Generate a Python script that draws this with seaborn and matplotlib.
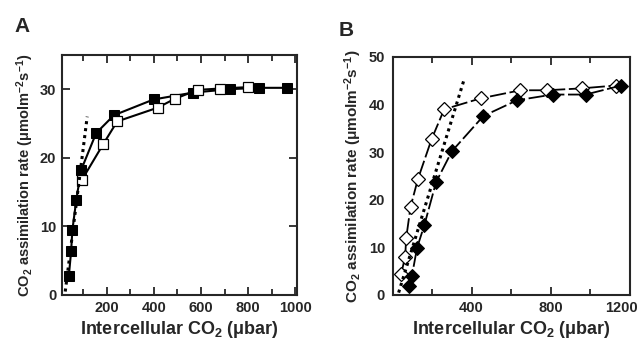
import numpy as np
import pandas as pd
import matplotlib
matplotlib.use("Agg")
import matplotlib.pyplot as plt
import matplotlib.transforms as mtransforms
import seaborn as sns
from matplotlib.ticker import MultipleLocator

# ---- data ----
# panel A
a_fill_x = [40, 50, 55, 72, 92, 156, 231, 399, 565, 721, 844, 962]
a_fill_y = [2.7, 6.4, 9.4, 13.9, 18.2, 23.6, 26.2, 28.5, 29.5, 30.0, 30.2, 30.2]
a_open_x = [96, 186, 245, 416, 489, 586, 682, 799]
a_open_y = [16.8, 22.0, 25.3, 27.3, 28.6, 29.9, 30.1, 30.3]
a_dot_x = [25, 118]
a_dot_y = [0.5, 26]

# panel B
b_open_x = [45, 65, 70, 92, 129, 199, 262, 446, 647, 780, 956, 1128]
b_open_y = [4.5, 8.0, 11.9, 18.5, 24.3, 32.8, 39.0, 41.3, 43.0, 43.0, 43.4, 44.0]
b_fill_x = [82, 99, 125, 162, 221, 301, 460, 630, 809, 976, 1156]
b_fill_y = [1.9, 4.0, 9.9, 14.7, 23.7, 30.2, 37.6, 40.9, 42.1, 42.1, 44.0]
b_dot_x = [32, 362]
b_dot_y = [0.5, 45.2]

sns.set_style("ticks")
plt.rcParams["font.family"] = ["Liberation Sans", "DejaVu Sans"]
plt.rcParams["font.weight"] = "bold"
plt.rcParams["mathtext.default"] = "regular"
plt.rcParams["axes.linewidth"] = 1.5

fig = plt.figure(figsize=(6.42, 3.41), dpi=100)
ax1 = fig.add_axes([0.0961, 0.135, 0.366, 0.704])
ax2 = fig.add_axes([0.6126, 0.135, 0.3687, 0.698])

ylab = "CO$_2$ assimilation rate ($\\mu$molm$^{-2}$s$^{-1}$)"
xlab = "Intercellular CO$_2$ ($\\mu$bar)"

# ============================
# Panel A
# ============================
sns.lineplot(x=a_dot_x, y=a_dot_y, ax=ax1, color="black", lw=2.2,
             linestyle=(0, (1, 1.3)), zorder=4)
sns.lineplot(x=a_fill_x, y=a_fill_y, ax=ax1, color="black", lw=1.5, sort=False,
             marker="s", markersize=7, markerfacecolor="black",
             markeredgecolor="black", zorder=3)
sns.lineplot(x=a_open_x, y=a_open_y, ax=ax1, color="black", lw=1.5, sort=False,
             marker="s", markersize=7, markerfacecolor="white",
             markeredgecolor="black", markeredgewidth=0.9, zorder=3)

ax1.set_xlim(10, 1005)
ax1.set_ylim(0, 35)
ax1.xaxis.set_major_locator(MultipleLocator(200))
ax1.xaxis.set_minor_locator(MultipleLocator(100))
ax1.yaxis.set_major_locator(MultipleLocator(10))
ax1.tick_params(which="both", direction="in", top=True, right=True,
                width=1.3, labelsize=10.5, pad=4)
ax1.tick_params(which="major", length=6)
ax1.tick_params(which="minor", length=4)
ax1.set_xticks([200, 400, 600, 800, 1000])
ax1.set_xlabel(xlab, fontsize=13, fontweight="bold", labelpad=3)
ax1.set_ylabel(ylab, fontsize=10.5, fontweight="bold", labelpad=3)
fig.text(0.022, 0.905, "A", fontsize=15, fontweight="bold")

# ============================
# Panel B
# ============================
sns.lineplot(x=b_dot_x, y=b_dot_y, ax=ax2, color="black", lw=2.2,
             linestyle=(0, (1, 1.3)), zorder=4)
sns.lineplot(x=b_open_x, y=b_open_y, ax=ax2, color="black", lw=1.3, sort=False,
             linestyle=(0, (9, 2)), marker="D", markersize=7.5,
             markerfacecolor="white", markeredgecolor="black",
             markeredgewidth=0.9, zorder=3)
sns.lineplot(x=b_fill_x, y=b_fill_y, ax=ax2, color="black", lw=1.3, sort=False,
             linestyle=(0, (9, 2)), marker="D", markersize=7.5,
             markerfacecolor="black", markeredgecolor="black", zorder=3)

ax2.set_xlim(5, 1200)
ax2.set_ylim(0, 50)
ax2.set_xticks([400, 800, 1200])
ax2.xaxis.set_minor_locator(MultipleLocator(200))
ax2.yaxis.set_major_locator(MultipleLocator(10))
ax2.tick_params(which="both", direction="in", top=True, right=False,
                width=1.3, labelsize=10.5, pad=4)
ax2.tick_params(axis="x", which="major", length=6)
ax2.tick_params(axis="x", which="minor", length=4)
ax2.tick_params(axis="y", which="major", length=0, pad=6)
ax2.set_xlabel(xlab, fontsize=13, fontweight="bold", labelpad=3)
ax2.set_ylabel(ylab, fontsize=11, fontweight="bold", labelpad=3)
fig.text(0.527, 0.895, "B", fontsize=15, fontweight="bold")

# pull the last "1200" label inside the figure edge like the original
last = ax2.get_xticklabels()[-1]
last.set_transform(last.get_transform() +
                   mtransforms.ScaledTranslation(-9 / 100, 0, fig.dpi_scale_trans))

fig.savefig("out.png", dpi=100)
